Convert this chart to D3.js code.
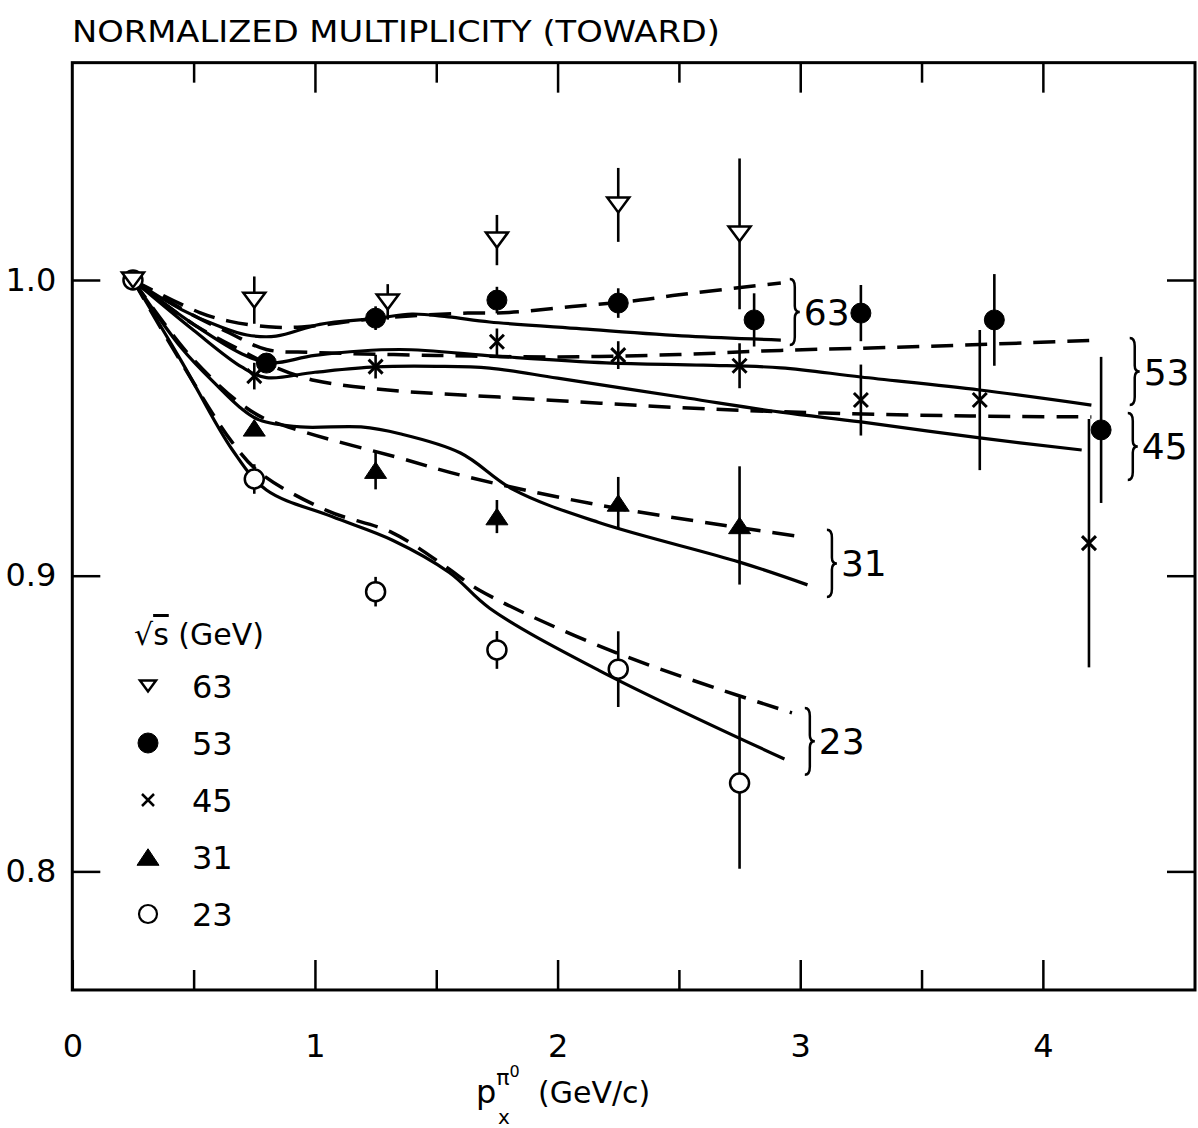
<!DOCTYPE html>
<html>
<head>
<meta charset="utf-8">
<script src="https://cdnjs.cloudflare.com/ajax/libs/d3/7.8.5/d3.min.js"></script>
<style>
  body { margin: 0; background: #fff; }
  text { font-family: "DejaVu Sans", sans-serif; fill: #000; }
</style>
</head>
<body>
<script>
// ---- data ----
var xTicksMajor = [0, 1, 2, 3, 4];
var xTicksMinor = [0.5, 1.5, 2.5, 3.5];
var yTicks = [0.8, 0.9, 1.0];

// sqrt(s) = 63 GeV, open down triangles
var x63 = [0.25, 0.75, 1.3, 1.75, 2.25, 2.75];
var y63 = [1.0, 0.9932, 0.9926, 1.0135, 1.0254, 1.0156];
var e63 = [0, 0.008, 0.006, 0.0085, 0.0125, 0.0255];
// 53 GeV, filled circles
var x53 = [0.8, 1.25, 1.75, 2.25, 2.81, 3.25, 3.8, 4.24];
var y53 = [0.9719, 0.9871, 0.9932, 0.9922, 0.9865, 0.9888, 0.9865, 0.9493];
var e53 = [0.003, 0.004, 0.0045, 0.005, 0.009, 0.0095, 0.0155, 0.0247];
// 45 GeV, crosses
var x45 = [0.75, 1.25, 1.75, 2.25, 2.75, 3.25, 3.74, 4.19];
var y45 = [0.9675, 0.9707, 0.9791, 0.9746, 0.971, 0.9594, 0.9594, 0.911];
var e45 = [0.0045, 0.004, 0.0045, 0.0047, 0.0076, 0.012, 0.0237, 0.042];
// 31 GeV, filled up triangles
var x31 = [0.75, 1.25, 1.75, 2.25, 2.75];
var y31 = [0.950, 0.9357, 0.920, 0.9246, 0.917];
var e31 = [0, 0.0065, 0.0056, 0.0088, 0.020];
// 23 GeV, open circles
var x23 = [0.25, 0.75, 1.25, 1.75, 2.25, 2.75];
var y23 = [1.0, 0.9327, 0.8946, 0.8749, 0.8684, 0.8299];
var e23 = [0, 0.005, 0.005, 0.0064, 0.0128, 0.029];

// model curves (solid and dashed) per energy
var fit63Solid = [[0.25,1.0],[0.45,0.99],[0.6,0.9845],[0.72,0.9814],[0.84,0.981],[1.02,0.985],[1.25,0.987],[1.4,0.9885],[1.55,0.9875],[1.72,0.9858],[2.1,0.9835],[2.54,0.981],[2.92,0.9797]];
var fit63Dash = [[0.25,1.0],[0.525,0.989],[0.65,0.986],[0.84,0.984],[1.0,0.9845],[1.25,0.987],[1.63,0.9888],[1.8,0.989],[2.06,0.991],[2.34,0.9932],[2.5,0.995],[2.92,0.999]];
var fit53Solid = [[0.25,1.0],[0.5,0.985],[0.7,0.975],[0.82,0.972],[1.0,0.9745],[1.35,0.9765],[1.75,0.9742],[2.2,0.972],[2.6,0.9712],[2.92,0.9703],[3.25,0.9672],[3.74,0.9628],[4.2,0.9577]];
var fit53Dash = [[0.25,1.0],[0.5,0.988],[0.65,0.982],[0.8,0.9765],[1.0,0.9755],[1.5,0.9745],[2.0,0.974],[2.5,0.9748],[2.92,0.9762],[3.5,0.9775],[4.24,0.9797]];
var fit45Solid = [[0.25,1.0],[0.5,0.983],[0.7,0.9705],[0.8,0.967],[1.0,0.9688],[1.25,0.9706],[1.5,0.9708],[1.72,0.9702],[2.0,0.9668],[2.54,0.960],[2.92,0.9553],[3.25,0.952],[3.74,0.9466],[4.16,0.9425]];
var fit45Dash = [[0.25,1.0],[0.5,0.985],[0.7,0.976],[0.85,0.970],[1.0,0.966],[1.3,0.9628],[1.76,0.9604],[2.54,0.9567],[3.1,0.955],[3.7,0.954],[4.2,0.9537]];
var fit31Solid = [[0.25,1.0],[0.45,0.977],[0.6,0.964],[0.69,0.957],[0.77,0.9527],[0.94,0.9503],[1.19,0.9503],[1.35,0.948],[1.6,0.9415],[1.82,0.929],[2.17,0.918],[2.75,0.9046],[3.03,0.8969]];
var fit31Dash = [[0.25,1.0],[0.5,0.973],[0.75,0.955],[0.94,0.949],[1.35,0.9398],[1.6,0.934],[2.17,0.9239],[3.02,0.913]];
var fit23Solid = [[0.25,1.0],[0.45,0.9725],[0.66,0.9425],[0.8,0.929],[1.07,0.92],[1.32,0.912],[1.555,0.901],[1.72,0.889],[2.17,0.868],[2.935,0.838]];
var fit23Dash = [[0.25,1.0],[0.45,0.972],[0.66,0.945],[0.775,0.9347],[1.05,0.922],[1.32,0.9145],[1.54,0.903],[1.68,0.895],[2.24,0.874],[2.966,0.8536]];

// braces grouping each solid/dashed pair: label, x, top, bottom (data units)
var braceLabels = ["63", "53", "45", "31", "23"];
var braceX = [2.957, 4.358, 4.35, 3.11, 3.019];
var braceTop = [1.0003, 0.9804, 0.955, 0.9155, 0.8553];
var braceBottom = [0.978, 0.9577, 0.9324, 0.8928, 0.8327];

var legendLabels = ["63", "53", "45", "31", "23"];

// ---- layout ----
var width = 1198, height = 1128;
var x = d3.scaleLinear().domain([0, 4.627]).range([72.3, 1195]);
var y = d3.scaleLinear().domain([0.8, 1.0]).range([871.4, 280]);
var yLow = 0.7599, yHigh = 1.0735;

var svg = d3.select("body").append("svg")
    .attr("width", width)
    .attr("height", height)
    .style("background", "#fff");

// title
svg.append("text")
    .attr("x", 72).attr("y", 42)
    .attr("textLength", 648).attr("lengthAdjust", "spacingAndGlyphs")
    .style("font-size", "31px")
    .text("NORMALIZED MULTIPLICITY (TOWARD)");

// frame
svg.append("rect")
    .attr("x", x(0)).attr("y", y(yHigh))
    .attr("width", x(4.627) - x(0)).attr("height", y(yLow) - y(yHigh))
    .attr("fill", "none").attr("stroke", "#000").attr("stroke-width", 3);

// x axes: ticks pointing inward on bottom and top
function styleAxis(g) {
  g.select(".domain").remove();
  g.selectAll(".tick line").attr("stroke", "#000").attr("stroke-width", 2.5);
  g.selectAll(".tick text").style("font-size", "32px").attr("font-family", "DejaVu Sans");
}
svg.append("g").attr("transform", "translate(0," + y(yLow) + ")")
    .call(d3.axisBottom(x).tickValues(xTicksMajor).tickSizeInner(-30).tickSizeOuter(0).tickPadding(44).tickFormat(d3.format("d")))
    .call(styleAxis);
svg.append("g").attr("transform", "translate(0," + y(yLow) + ")")
    .call(d3.axisBottom(x).tickValues(xTicksMinor).tickSizeInner(-20).tickSizeOuter(0).tickFormat(""))
    .call(styleAxis);
svg.append("g").attr("transform", "translate(0," + y(yHigh) + ")")
    .call(d3.axisTop(x).tickValues(xTicksMajor.filter(function(d){ return d > 0; })).tickSizeInner(-30).tickSizeOuter(0).tickFormat(""))
    .call(styleAxis);
svg.append("g").attr("transform", "translate(0," + y(yHigh) + ")")
    .call(d3.axisTop(x).tickValues(xTicksMinor).tickSizeInner(-20).tickSizeOuter(0).tickFormat(""))
    .call(styleAxis);

// y axes
svg.append("g").attr("transform", "translate(" + x(0) + ",0)")
    .call(d3.axisLeft(y).tickValues(yTicks).tickSizeInner(-28).tickSizeOuter(0).tickPadding(16).tickFormat(d3.format(".1f")))
    .call(styleAxis);
svg.append("g").attr("transform", "translate(" + x(4.627) + ",0)")
    .call(d3.axisRight(y).tickValues(yTicks).tickSizeInner(-28).tickSizeOuter(0).tickFormat(""))
    .call(styleAxis);

// x axis title, one text element with super/subscripts
var xt = svg.append("text").attr("x", 476).attr("y", 1103).style("font-size", "32px");
xt.append("tspan").text("p");
xt.append("tspan").attr("dy", -18).style("font-size", "22px").text("\u03c0");
xt.append("tspan").attr("dy", -8).style("font-size", "16px").text("0");
xt.append("tspan").attr("x", 498).attr("dy", 47).style("font-size", "20px").text("x");
xt.append("tspan").attr("x", 538).attr("dy", -21).style("font-size", "30px").text("(GeV/c)");

// ---- curves ----
var line = d3.line()
    .x(function(d) { return x(d[0]); })
    .y(function(d) { return y(d[1]); })
    .curve(d3.curveCatmullRom.alpha(0.5));

var solids = [fit63Solid, fit53Solid, fit45Solid, fit31Solid, fit23Solid];
var dashes = [fit63Dash, fit53Dash, fit45Dash, fit31Dash, fit23Dash];

svg.append("g").selectAll("path").data(dashes).enter().append("path")
    .attr("d", line)
    .attr("fill", "none").attr("stroke", "#000")
    .attr("stroke-width", 3.5).attr("stroke-dasharray", "22,12");
svg.append("g").selectAll("path").data(solids).enter().append("path")
    .attr("d", line)
    .attr("fill", "none").attr("stroke", "#000")
    .attr("stroke-width", 3.2);

// braces
function bracePath(bx, y1, y2) {
  var ym = (y1 + y2) / 2, w = 5;
  var p = d3.path();
  p.moveTo(bx, y1);
  p.quadraticCurveTo(bx + w, y1, bx + w, y1 + 8);
  p.lineTo(bx + w, ym - 6);
  p.quadraticCurveTo(bx + w, ym, bx + 2 * w, ym);
  p.quadraticCurveTo(bx + w, ym, bx + w, ym + 6);
  p.lineTo(bx + w, y2 - 8);
  p.quadraticCurveTo(bx + w, y2, bx, y2);
  return p.toString();
}
var braces = svg.append("g").selectAll("g").data(braceLabels).enter().append("g");
braces.append("path")
    .attr("d", function(d, i) { return bracePath(x(braceX[i]), y(braceTop[i]), y(braceBottom[i])); })
    .attr("fill", "none").attr("stroke", "#000").attr("stroke-width", 2.5);
braces.append("text")
    .attr("x", function(d, i) { return x(braceX[i]) + 14; })
    .attr("y", function(d, i) { return (y(braceTop[i]) + y(braceBottom[i])) / 2 + 13; })
    .style("font-size", "36px")
    .text(function(d) { return d; });

// ---- markers ----
function markerPath(kind, s) {
  var p = d3.path();
  if (kind === "down") {
    p.moveTo(-s, -s * 0.68); p.lineTo(s, -s * 0.68); p.lineTo(0, s * 0.68); p.closePath();
  } else if (kind === "up") {
    p.moveTo(-s, s * 0.75); p.lineTo(s, s * 0.75); p.lineTo(0, -s * 0.75); p.closePath();
  } else if (kind === "circle") {
    p.arc(0, 0, s, 0, 2 * Math.PI);
  } else if (kind === "cross") {
    p.moveTo(-s, -s); p.lineTo(s, s); p.moveTo(-s, s); p.lineTo(s, -s);
  }
  return p.toString();
}

var series = [
  {xs: x63, ys: y63, es: e63, kind: "down", fill: "#fff", size: 11, sw: 2.5},
  {xs: x53, ys: y53, es: e53, kind: "circle", fill: "#000", size: 10, sw: 1},
  {xs: x45, ys: y45, es: e45, kind: "cross", fill: "none", size: 7, sw: 3},
  {xs: x31, ys: y31, es: e31, kind: "up", fill: "#000", size: 11, sw: 1},
  {xs: x23, ys: y23, es: e23, kind: "circle", fill: "#fff", size: 9.5, sw: 2.5}
];

// draw from bottom curve energy up so open start point keeps triangle visible
[4, 3, 2, 1, 0].forEach(function(k) {
  var s = series[k];
  var pts = s.xs.map(function(v, i) { return {x: v, y: s.ys[i], e: s.es[i]}; });
  var g = svg.append("g");
  g.selectAll("line").data(pts.filter(function(d) { return d.e > 0; })).enter().append("line")
      .attr("x1", function(d) { return x(d.x); }).attr("x2", function(d) { return x(d.x); })
      .attr("y1", function(d) { return y(d.y + d.e); }).attr("y2", function(d) { return y(d.y - d.e); })
      .attr("stroke", "#000").attr("stroke-width", 2.6);
  g.selectAll("path").data(pts).enter().append("path")
      .attr("transform", function(d) { return "translate(" + x(d.x) + "," + y(d.y) + ")"; })
      .attr("d", markerPath(s.kind, s.size))
      .attr("fill", s.fill).attr("stroke", "#000").attr("stroke-width", s.sw);
});

// ---- legend ----
var lg = svg.append("g");
var head = lg.append("text").attr("x", 134).attr("y", 645).style("font-size", "30px");
head.append("tspan").text("\u221a");
head.append("tspan").style("text-decoration", "overline").text("s");
head.append("tspan").text(" (GeV)");

var legendSeries = [
  {kind: "down", fill: "#fff", size: 8, sw: 2.5},
  {kind: "circle", fill: "#000", size: 10, sw: 1},
  {kind: "cross", fill: "none", size: 6, sw: 2.5},
  {kind: "up", fill: "#000", size: 11, sw: 1},
  {kind: "circle", fill: "#fff", size: 9, sw: 2.2}
];
var rows = lg.selectAll("g.row").data(legendLabels).enter().append("g")
    .attr("class", "row")
    .attr("transform", function(d, i) { return "translate(148," + (686 + i * 57) + ")"; });
rows.append("path")
    .attr("d", function(d, i) { return markerPath(legendSeries[i].kind, legendSeries[i].size); })
    .attr("fill", function(d, i) { return legendSeries[i].fill; })
    .attr("stroke", "#000")
    .attr("stroke-width", function(d, i) { return legendSeries[i].sw; });
rows.append("text")
    .attr("x", 44).attr("y", 12)
    .style("font-size", "32px")
    .text(function(d) { return d; });
</script>
</body>
</html>
